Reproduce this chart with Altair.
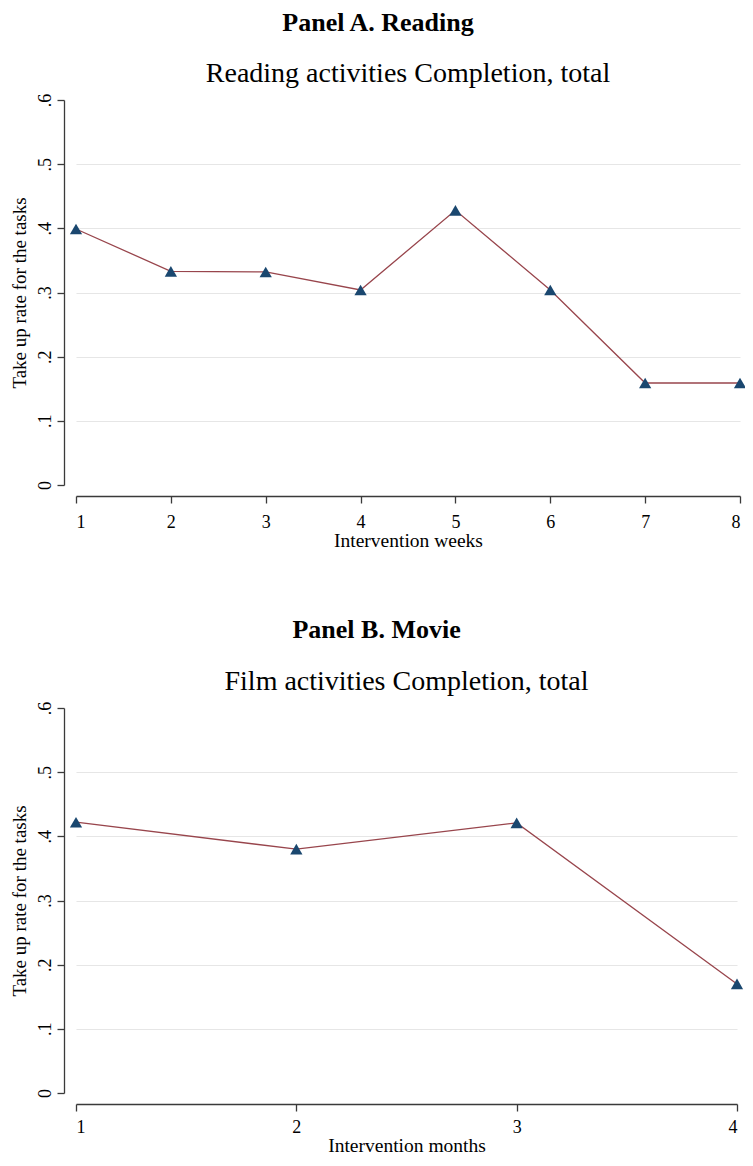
import altair as alt
import pandas as pd

# ---- data ----
weeks = [1, 2, 3, 4, 5, 6, 7, 8]
reading_rate = [0.399, 0.333, 0.332, 0.304, 0.428, 0.304, 0.159, 0.159]
months = [1, 2, 3, 4]
film_rate = [0.422, 0.380, 0.421, 0.170]
y_ticks = [0, 0.1, 0.2, 0.3, 0.4, 0.5, 0.6]

FONT = "Liberation Serif"
LINE_COLOR = "#98454c"
MARK_COLOR = "#1a476f"
AXIS_COLOR = "#3a3a3a"


def panel(xs, ys, xtitle, subtitle, width, lab_pad, title_pad):
    df = pd.DataFrame({"t": xs, "rate": ys})
    x = alt.X(
        "t:Q",
        scale=alt.Scale(domain=[xs[0], xs[-1]], nice=False, zero=False),
        axis=alt.Axis(
            values=xs, title=xtitle, format="d", offset=11, grid=False,
            tickSize=7, labelPadding=lab_pad, titlePadding=title_pad, titleFontSize=19.5,
        ),
    )
    y = alt.Y(
        "rate:Q",
        scale=alt.Scale(domain=[0, 0.6], nice=False),
        axis=alt.Axis(
            values=y_ticks,
            title="Take up rate for the tasks",
            labelExpr="datum.value == 0 ? '0' : replace(format(datum.value, '.1f'), '0.', '.')",
            labelAngle=-90, labelAlign="center", labelBaseline="bottom",
            offset=12, tickSize=7, labelPadding=3, titlePadding=7, titleFontSize=19,
            grid=True, gridColor="#e6e6e6", gridWidth=1.2,
            gridOpacity={"condition": {"test": "datum.value < 0.05 || datum.value > 0.55", "value": 0}, "value": 1},
        ),
    )
    base = alt.Chart(df).encode(x=x, y=y)
    line = base.mark_line(color=LINE_COLOR, strokeWidth=1.3)
    pts = base.mark_point(shape="triangle-up", filled=True, size=150, color=MARK_COLOR, opacity=1)
    return alt.layer(line, pts).properties(
        width=width, height=385,
        title=alt.TitleParams(subtitle, fontSize=28, font=FONT, fontWeight="normal",
                              anchor="middle", offset=5, color="black"),
    )


pA = panel(weeks, reading_rate, "Intervention weeks", "Reading activities Completion, total", 664, 10, 0)
pB = panel(months, film_rate, "Intervention months", "Film activities Completion, total", 661, 7, 0)

cA = alt.vconcat(pA, title=alt.TitleParams("Panel A. Reading", fontSize=26, fontWeight="bold",
                                           font=FONT, anchor="middle", offset=24, color="black"))
cB = alt.vconcat(pB, title=alt.TitleParams("Panel B. Movie", fontSize=26, fontWeight="bold",
                                           font=FONT, anchor="middle", offset=25, color="black"))

chart = alt.vconcat(cA, cB, spacing=67).properties(
    padding={"left": 2, "top": 2, "right": -2, "bottom": -1}
).configure_view(stroke=None).configure_axis(
    labelFont=FONT, titleFont=FONT, labelFontSize=18,
    labelColor="black", titleColor="black", titleFontWeight="normal",
    domainColor=AXIS_COLOR, tickColor=AXIS_COLOR, domainWidth=1.3, tickWidth=1.3,
).configure_concat(spacing=0)

chart.save("out.html", embed_options={"renderer": "svg", "actions": False})
